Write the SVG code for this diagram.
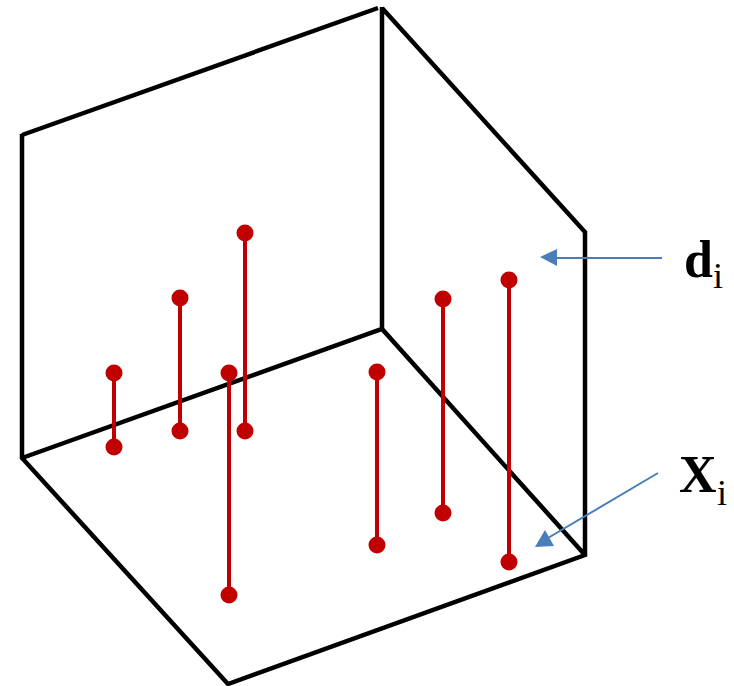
<svg xmlns="http://www.w3.org/2000/svg" width="734" height="686" viewBox="0 0 734 686">
<style>.k{stroke:#000;stroke-width:4.500;fill:none;stroke-linejoin:miter}.r{stroke:#c00000;stroke-width:4;fill:none}.d{fill:#c00000}.b{stroke:#4a7ebb;stroke-width:2;fill:none}.h{fill:#4a7ebb}.t{font-family:"Liberation Serif",serif;fill:#000;font-size:52px;font-weight:bold}.s{font-size:36px;font-weight:normal}</style>
<g id="connectors">
<path class="k" d="M22 135L378 8M382 8L585 232V555L228 684L22 458V134M22 458L382 329L585 555M382 7V329"/>
<path class="r" d="M114 373V447M180 298V431M245 233V431M229 373V595M377 372V545M443 299V513M509 280V562"/>
<path class="b" d="M662 258H556M658 473L548 538"/>
<path class="h" d="M540 257L557 249V266Z"/>
<path class="h" d="M535 547L545 530L554 546Z"/>
</g>
<g id="dots" class="d">
<circle cx="114" cy="373" r="8.500"/><circle cx="114" cy="447" r="8.500"/>
<circle cx="180" cy="298" r="8.500"/><circle cx="180" cy="431" r="8.500"/>
<circle cx="245" cy="233" r="8.500"/><circle cx="245" cy="431" r="8.500"/>
<circle cx="229" cy="373" r="8.500"/><circle cx="229" cy="595" r="8.500"/>
<circle cx="377" cy="372" r="8.500"/><circle cx="377" cy="545" r="8.500"/>
<circle cx="443" cy="299" r="8.500"/><circle cx="443" cy="513" r="8.500"/>
<circle cx="509" cy="280" r="8.500"/><circle cx="509" cy="562" r="8.500"/>
</g>
<g id="label-d"><text class="t" x="684" y="277">d<tspan class="s" x="713" dy="11">i</tspan></text></g>
<g id="label-x"><text class="t" x="679" y="492">X<tspan class="s" x="717" dy="13">i</tspan></text></g>
</svg>
